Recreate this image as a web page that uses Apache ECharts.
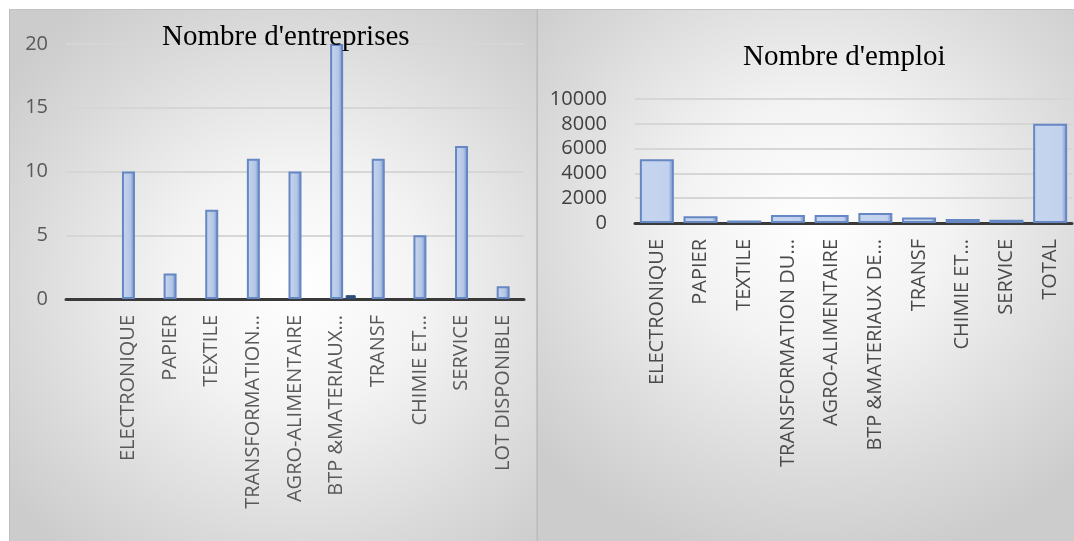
<!DOCTYPE html>
<html><head><meta charset="utf-8">
<script src="https://cdn.jsdelivr.net/npm/echarts@6/dist/echarts.min.js"></script>
<style>
html,body{margin:0;padding:0;background:#fff;width:1074px;height:541px;overflow:hidden;}
.panel{position:absolute;top:9px;height:532px;box-sizing:border-box;}
#p1{left:9px;width:528px;border-left:1px solid #bdbdbd;border-top:1px solid #c4c4c4;border-right:1px solid #c4c4c4;
 background:radial-gradient(ellipse 70% 65% at 55% 52%, #ffffff 0%, #f3f3f3 35%, #dadada 75%, #cccccc 100%);}
#p2{left:537px;width:537px;border-top:1px solid #c4c4c4;border-left:1px solid #bcbcbc;
 background:radial-gradient(ellipse 70% 65% at 52% 40%, #ffffff 0%, #f3f3f3 35%, #dadada 75%, #cccccc 100%);}
.chart{position:absolute;left:0;top:0;width:100%;height:100%;}
</style></head>
<body>
<div id="p1" class="panel"><div id="c1" class="chart"></div></div>
<div id="p2" class="panel"><div id="c2" class="chart"></div></div>
<script>
// Left chart: Nombre d'entreprises
const entCategories = ["", "ELECTRONIQUE", "PAPIER", "TEXTILE", "TRANSFORMATION…", "AGRO-ALIMENTAIRE", "BTP &MATERIAUX…", "TRANSF", "CHIMIE ET…", "SERVICE", "LOT DISPONIBLE"];
const entValues = [null, 10, 2, 7, 11, 10, 20, 11, 5, 12, 1];
const entSecond = [null, null, null, null, null, null, 0.3, null, null, null, null];
const entTicks = [0, 5, 10, 15, 20];

// Right chart: Nombre d'emploi
const empCategories = ["ELECTRONIQUE", "PAPIER", "TEXTILE", "TRANSFORMATION DU…", "AGRO-ALIMENTAIRE", "BTP &MATERIAUX DE…", "TRANSF", "CHIMIE ET…", "SERVICE", "TOTAL"];
const empValues = [5150, 550, 200, 650, 650, 800, 450, 320, 270, 8000];
const empTicks = [0, 2000, 4000, 6000, 8000, 10000];

const barFill = {type:'linear',x:0,y:0,x2:1,y2:0,colorStops:[
  {offset:0,color:'#c9d7ef'},{offset:0.65,color:'#b4c6e6'},{offset:0.82,color:'#8ea8d6'},{offset:1,color:'#6f8cc2'}]};
const barFill2 = {type:'linear',x:0,y:0,x2:1,y2:0,colorStops:[
  {offset:0,color:'#aabfe3'},{offset:0.05,color:'#c6d5ee'},{offset:0.85,color:'#c2d2ee'},{offset:0.9,color:'#9fb5dd'},{offset:1,color:'#7f9ad0'}]};

const labelFont = 'Open Sans';

const c1 = echarts.init(document.getElementById('c1'));
c1.setOption({
  animation:false,
  title:{text:"Nombre d'entreprises",left:147,top:8,textStyle:{fontFamily:'Liberation Serif',fontSize:29,fontWeight:'normal',color:'#000'}},
  grid:[{left:56,width:458,top:34,height:255},{left:73,width:458,top:34,height:255}],
  xAxis:[{type:'category',gridIndex:0,data:entCategories,axisTick:{show:false},
    axisLine:{lineStyle:{color:'#3a3a3a',width:3}},
    axisLabel:{rotate:90,interval:0,margin:16,fontSize:20,fontFamily:labelFont,color:'#595959'}},
    {type:'category',gridIndex:1,data:entCategories,show:false}],
  yAxis:[{type:'value',gridIndex:0,min:entTicks[0],max:entTicks[entTicks.length-1],interval:5,
    axisLine:{show:false},axisTick:{show:false},
    splitLine:{lineStyle:{color:'#d6d6d6',width:2}},
    axisLabel:{margin:18,fontSize:20,fontFamily:labelFont,color:'#595959'}},
    {type:'value',gridIndex:1,min:0,max:20,show:false,splitLine:{show:false}}],
  series:[{type:'bar',xAxisIndex:0,yAxisIndex:0,data:entValues,barWidth:13,
    itemStyle:{color:barFill,borderColor:'#6587c3',borderWidth:2}},
    {type:'bar',xAxisIndex:1,yAxisIndex:1,data:entSecond,barWidth:10,
    itemStyle:{color:'#2e4d7c',borderColor:'#2e4d7c',borderWidth:1}}]
});

const c2 = echarts.init(document.getElementById('c2'));
c2.setOption({
  animation:false,
  title:{text:"Nombre d'emploi",left:200,top:28,textStyle:{fontFamily:'Liberation Serif',fontSize:29,fontWeight:'normal',color:'#000'}},
  grid:{left:97,right:2,top:89,height:124},
  xAxis:{type:'category',data:empCategories,axisTick:{show:false},
    axisLine:{lineStyle:{color:'#3a3a3a',width:3}},
    axisLabel:{rotate:90,interval:0,margin:16,fontSize:20,fontFamily:labelFont,color:'#4a4a4a'}},
  yAxis:{type:'value',min:empTicks[0],max:empTicks[empTicks.length-1],interval:2000,
    axisLine:{show:false},axisTick:{show:false},
    splitLine:{lineStyle:{color:'#d6d6d6',width:2}},
    axisLabel:{margin:28,fontSize:20,fontFamily:labelFont,color:'#404040',formatter:function(v){return String(v);}}},
  series:[{type:'bar',data:empValues,barWidth:34,
    itemStyle:{color:barFill2,borderColor:'#6587c3',borderWidth:2}}]
});
</script>
</body></html>
